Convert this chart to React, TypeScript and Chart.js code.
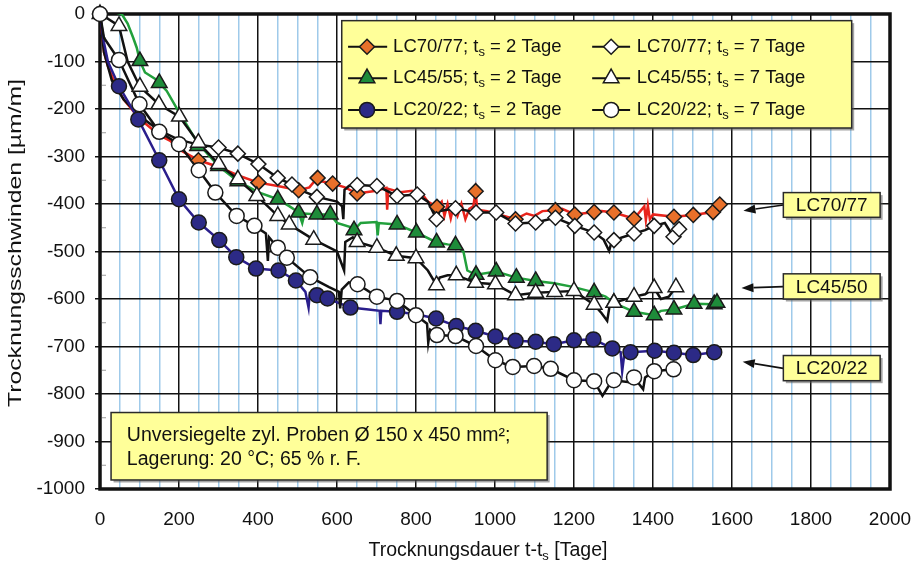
import React, { useEffect, useRef } from 'react';
import { Chart, registerables } from 'chart.js';

Chart.register(...registerables);

type P = [number, number];

// ---------- axes ----------
const X_MIN = 0;
const X_MAX = 2000;
const X_MINOR_STEP = 50;
const X_LABEL_STEP = 200;
const Y_MIN = -1000;
const Y_MAX = 0;
const Y_STEP = 100;

const X_TITLE: [string, boolean][] = [['Trocknungsdauer t-t', false], ['s', true], [' [Tage]', false]];
const Y_TITLE = 'Trocknungsschwinden [µm/m]';

// ---------- series: LC70/77, t_s = 2 Tage ----------
const LC70_2_LINE: P[] = [
  [0, 0], [5, -40], [10, -80], [20, -110], [40, -150], [60, -180], [100, -220], [150, -255], [178, -267],
  [200, -285], [250, -308], [300, -322], [350, -340], [401, -355], [450, -362], [503, -371], [530, -365],
  [549, -346], [560, -352], [589, -357], [620, -365], [651, -378], [700, -372], [725, -366], [727, -412],
  [730, -368], [760, -375], [790, -372], [800, -382], [815, -378], [830, -395], [853, -406], [865, -395],
  [872, -425], [880, -400], [888, -430], [895, -405], [905, -425], [915, -400], [925, -432], [935, -410],
  [945, -405], [951, -373], [955, -412], [980, -415], [1000, -420], [1052, -432], [1080, -420], [1100, -425],
  [1120, -415], [1153, -413], [1170, -410], [1202, -422], [1251, -417], [1270, -415], [1301, -418],
  [1340, -428], [1352, -431], [1378, -405], [1382, -434], [1387, -404], [1392, -432], [1400, -422],
  [1453, -427], [1502, -423], [1552, -417], [1569, -401],
];
const LC70_2_MARK: P[] = [
  [0, 0], [249, -308], [401, -355], [503, -371], [551, -345], [589, -357], [651, -378], [853, -406],
  [951, -373], [1052, -432], [1153, -413], [1202, -422], [1251, -417], [1301, -418], [1352, -431],
  [1453, -427], [1502, -423], [1552, -417], [1569, -401],
];

// ---------- series: LC70/77, t_s = 7 Tage ----------
const LC70_7_LINE: P[] = [
  [0, 0], [10, -80], [30, -140], [60, -180], [100, -215], [150, -245], [200, -265], [250, -275],
  [300, -281], [349, -294], [401, -316], [450, -345], [486, -359], [520, -375], [549, -385], [600, -395],
  [613, -405], [616, -432], [619, -370], [630, -362], [651, -360], [701, -362], [752, -383], [803, -380],
  [830, -395], [852, -432], [860, -415], [900, -409], [952, -418], [1003, -418], [1052, -441],
  [1103, -439], [1153, -429], [1202, -446], [1251, -460], [1275, -475], [1289, -499], [1295, -480],
  [1301, -476], [1352, -462], [1380, -455], [1403, -446], [1430, -440], [1452, -469], [1466, -453],
];
const LC70_7_MARK: P[] = [
  [300, -281], [349, -294], [401, -316], [450, -345], [486, -359], [549, -385], [651, -360], [701, -362],
  [752, -383], [803, -380], [852, -432], [900, -409], [952, -418], [1003, -418], [1052, -441], [1103, -439],
  [1153, -429], [1202, -446], [1251, -460], [1301, -476], [1352, -462], [1403, -446], [1452, -469],
  [1466, -453],
];

// ---------- series: LC45/55, t_s = 2 Tage ----------
const LC45_2_LINE: P[] = [
  [5, 15], [30, 5], [55, 0], [70, -20], [84, -50], [93, -71], [101, -99], [114, -123], [140, -137],
  [150, -145], [169, -162], [198, -204], [247, -271], [300, -320], [349, -352], [400, -375], [450, -390],
  [480, -405], [503, -418], [512, -440], [518, -420], [549, -422], [583, -422], [600, -440], [640, -450],
  [643, -455], [660, -440], [700, -438], [703, -466], [706, -440], [752, -443], [801, -460], [852, -481],
  [880, -485], [900, -487], [920, -500], [930, -540], [952, -549], [1003, -542], [1054, -555],
  [1103, -562], [1150, -567], [1200, -575], [1251, -586], [1280, -595], [1301, -608], [1352, -627],
  [1403, -634], [1420, -625], [1453, -622], [1504, -610], [1555, -611],
];
const LC45_2_MARK: P[] = [
  [101, -99], [150, -145], [247, -278], [300, -320], [349, -352], [450, -390], [503, -418], [549, -422],
  [583, -422], [643, -455], [752, -443], [801, -460], [852, -481], [900, -487], [952, -549], [1003, -542],
  [1054, -555], [1103, -562], [1251, -586], [1301, -608], [1352, -627], [1403, -634], [1453, -622],
  [1504, -610], [1555, -611], [1562, -608],
];

// ---------- series: LC45/55, t_s = 7 Tage ----------
const LC45_7_LINE: P[] = [
  [0, 0], [20, -10], [48, -25], [70, -100], [101, -153], [149, -190], [201, -216], [249, -271],
  [300, -316], [349, -348], [397, -383], [450, -425], [479, -443], [541, -475], [600, -500], [618, -540],
  [621, -480], [640, -470], [651, -480], [701, -492], [750, -509], [800, -514], [830, -540], [852, -571],
  [860, -555], [880, -550], [902, -550], [951, -566], [1001, -569], [1052, -592], [1103, -587],
  [1151, -585], [1200, -583], [1251, -612], [1270, -630], [1284, -646], [1290, -615], [1301, -608],
  [1352, -595], [1380, -590], [1403, -577], [1420, -600], [1440, -595], [1458, -575],
];
const LC45_7_MARK: P[] = [
  [0, 0], [48, -25], [101, -153], [149, -190], [201, -216], [249, -271], [300, -316], [349, -348],
  [397, -383], [450, -425], [479, -443], [541, -475], [651, -480], [701, -492], [750, -509], [800, -514],
  [852, -571], [902, -550], [951, -566], [1001, -569], [1052, -592], [1103, -587], [1151, -585],
  [1200, -583], [1251, -612], [1301, -608], [1352, -595], [1403, -577], [1458, -575],
];

// ---------- series: LC20/22, t_s = 2 Tage ----------
const LC20_2_LINE: P[] = [
  [0, 0], [10, -60], [20, -100], [48, -152], [97, -222], [150, -308], [200, -390], [250, -439],
  [302, -476], [345, -512], [395, -536], [452, -540], [496, -561], [520, -585], [528, -618], [531, -588],
  [549, -592], [576, -599], [634, -618], [680, -622], [708, -625], [710, -653], [712, -625], [752, -627],
  [800, -632], [851, -641], [902, -657], [951, -667], [1001, -679], [1052, -688], [1103, -690],
  [1149, -695], [1200, -687], [1249, -685], [1297, -704], [1318, -712], [1322, -752], [1328, -712],
  [1343, -712], [1404, -709], [1453, -713], [1502, -718], [1555, -712],
];
const LC20_2_MARK: P[] = [
  [48, -152], [97, -222], [150, -308], [200, -390], [250, -439], [302, -476], [345, -512], [395, -536],
  [452, -540], [496, -561], [549, -592], [576, -599], [634, -618], [752, -627], [851, -641], [902, -657],
  [951, -667], [1001, -679], [1052, -688], [1103, -690], [1149, -695], [1200, -687], [1249, -685],
  [1297, -704], [1343, -712], [1404, -709], [1453, -713], [1502, -718], [1555, -712],
];

// ---------- series: LC20/22, t_s = 7 Tage ----------
const LC20_7_LINE: P[] = [
  [0, 0], [10, -50], [48, -97], [100, -190], [150, -248], [200, -274], [250, -329], [292, -376],
  [346, -425], [391, -446], [420, -462], [425, -520], [428, -470], [450, -492], [473, -513], [532, -554],
  [580, -575], [605, -585], [608, -620], [612, -580], [630, -565], [652, -569], [701, -595], [752, -604],
  [800, -634], [828, -652], [831, -692], [836, -665], [853, -676], [900, -678], [952, -699],
  [1001, -729], [1045, -743], [1099, -741], [1141, -747], [1200, -771], [1251, -773], [1272, -804],
  [1290, -780], [1301, -771], [1340, -775], [1352, -765], [1375, -790], [1380, -765], [1403, -752],
  [1452, -748],
];
const LC20_7_MARK: P[] = [
  [0, 0], [48, -97], [100, -190], [150, -248], [200, -274], [250, -329], [292, -376], [346, -425],
  [391, -446], [450, -492], [473, -513], [532, -554], [652, -569], [701, -595], [752, -604], [800, -634],
  [853, -676], [900, -678], [952, -699], [1001, -729], [1045, -743], [1099, -741], [1141, -747],
  [1200, -771], [1251, -773], [1301, -771], [1352, -765], [1403, -752], [1452, -748],
];

// ---------- legend / labels ----------
const LEGEND_NAMES = ['LC70/77', 'LC45/55', 'LC20/22'];
const LEGEND_AGES = ['2', '7'];
const SIDE_LABELS = ['LC70/77', 'LC45/50', 'LC20/22'];
const NOTE_LINES = ['Unversiegelte zyl. Proben Ø 150 x 450 mm²;', 'Lagerung: 20 °C; 65 % r. F.'];

const FONT = '"Liberation Sans", Arial, Helvetica, sans-serif';
const YELLOW = '#ffff99';
const ORANGE = '#e8702a';
const RED = '#e8241c';
const GREEN_FILL = '#1e8c3a';
const GREEN_LINE = '#22a03c';
const NAVY_FILL = '#2c2a86';
const NAVY_LINE = '#2a1e8c';
const MARK_BORDER = '#1a1a1a';

type Style = 'diamond' | 'triangle' | 'circle';

const SERIES: { line: P[]; mark: P[]; lineColor: string; fill: string; style: Style }[] = [
  { line: LC70_2_LINE, mark: LC70_2_MARK, lineColor: RED, fill: ORANGE, style: 'diamond' },
  { line: LC70_7_LINE, mark: LC70_7_MARK, lineColor: '#111', fill: '#ffffff', style: 'diamond' },
  { line: LC45_2_LINE, mark: LC45_2_MARK, lineColor: GREEN_LINE, fill: GREEN_FILL, style: 'triangle' },
  { line: LC45_7_LINE, mark: LC45_7_MARK, lineColor: '#111', fill: '#ffffff', style: 'triangle' },
  { line: LC20_2_LINE, mark: LC20_2_MARK, lineColor: NAVY_LINE, fill: NAVY_FILL, style: 'circle' },
  { line: LC20_7_LINE, mark: LC20_7_MARK, lineColor: '#111', fill: '#ffffff', style: 'circle' },
];

const RADIUS: Record<Style, number> = { diamond: 7.5, triangle: 9, circle: 7.5 };
const CHART_STYLE: Record<Style, string> = { diamond: 'rectRot', triangle: 'triangle', circle: 'circle' };

function drawMarker(ctx: CanvasRenderingContext2D, style: Style, x: number, y: number, fill: string) {
  const r = RADIUS[style];
  ctx.save();
  ctx.beginPath();
  if (style === 'circle') {
    ctx.arc(x, y, r, 0, Math.PI * 2);
  } else if (style === 'diamond') {
    ctx.moveTo(x, y - r);
    ctx.lineTo(x + r, y);
    ctx.lineTo(x, y + r);
    ctx.lineTo(x - r, y);
    ctx.closePath();
  } else {
    ctx.moveTo(x, y - r);
    ctx.lineTo(x + r * 0.866, y + r * 0.5);
    ctx.lineTo(x - r * 0.866, y + r * 0.5);
    ctx.closePath();
  }
  ctx.fillStyle = fill;
  ctx.fill();
  ctx.lineWidth = 1.5;
  ctx.strokeStyle = MARK_BORDER;
  ctx.stroke();
  ctx.restore();
}

function richWidth(ctx: CanvasRenderingContext2D, parts: [string, boolean][], size: number) {
  let w = 0;
  for (const [t, sub] of parts) {
    ctx.font = `${sub ? Math.round(size * 0.68) : size}px ${FONT}`;
    w += ctx.measureText(t).width;
  }
  return w;
}

function drawRich(ctx: CanvasRenderingContext2D, parts: [string, boolean][], x: number, y: number, size: number, align: 'left' | 'center') {
  const total = richWidth(ctx, parts, size);
  let cx = align === 'center' ? x - total / 2 : x;
  ctx.textAlign = 'left';
  ctx.textBaseline = 'middle';
  for (const [t, sub] of parts) {
    ctx.font = `${sub ? Math.round(size * 0.68) : size}px ${FONT}`;
    ctx.fillText(t, cx, y + (sub ? size * 0.3 : 0));
    cx += ctx.measureText(t).width;
  }
}

function yellowBox(ctx: CanvasRenderingContext2D, l: number, t: number, r: number, b: number) {
  ctx.save();
  ctx.fillStyle = 'rgba(90,90,90,0.55)';
  ctx.fillRect(l + 2.5, t + 2.5, r - l, b - t);
  ctx.fillStyle = YELLOW;
  ctx.fillRect(l, t, r - l, b - t);
  ctx.lineWidth = 1.5;
  ctx.strokeStyle = '#2a2a2a';
  ctx.strokeRect(l, t, r - l, b - t);
  ctx.restore();
}

function arrow(ctx: CanvasRenderingContext2D, x1: number, y1: number, x2: number, y2: number) {
  ctx.save();
  ctx.strokeStyle = '#111';
  ctx.fillStyle = '#111';
  ctx.lineWidth = 1.6;
  const ang = Math.atan2(y2 - y1, x2 - x1);
  const hl = 12;
  const hw = 4.5;
  const bx = x2 - Math.cos(ang) * hl;
  const by = y2 - Math.sin(ang) * hl;
  ctx.beginPath();
  ctx.moveTo(x1, y1);
  ctx.lineTo(bx, by);
  ctx.stroke();
  ctx.beginPath();
  ctx.moveTo(x2, y2);
  ctx.lineTo(bx - Math.sin(ang) * hw, by + Math.cos(ang) * hw);
  ctx.lineTo(bx + Math.sin(ang) * hw, by - Math.cos(ang) * hw);
  ctx.closePath();
  ctx.fill();
  ctx.restore();
}

const decorPlugin = {
  id: 'decor',
  beforeDatasetsDraw(chart: any) {
    const { ctx, chartArea: a, scales } = chart;
    const ys = scales.y;
    ctx.save();
    ctx.strokeStyle = '#9a9a9a';
    ctx.lineWidth = 1;
    for (let v = Y_MAX - Y_STEP / 2; v > Y_MIN; v -= Y_STEP) {
      const py = ys.getPixelForValue(v);
      ctx.beginPath();
      ctx.moveTo(a.left + 2, py);
      ctx.lineTo(a.left + 6, py);
      ctx.stroke();
    }
    ctx.strokeStyle = '#111';
    ctx.lineWidth = 3.5;
    ctx.strokeRect(a.left, a.top, a.right - a.left, a.bottom - a.top);
    ctx.restore();
  },
  afterDraw(chart: any) {
    const { ctx, chartArea: a, scales } = chart;
    const xs = scales.x;
    const ys = scales.y;
    const X = (v: number) => xs.getPixelForValue(v);
    const Y = (v: number) => ys.getPixelForValue(v);
    ctx.save();
    ctx.fillStyle = '#111';

    // legend
    yellowBox(ctx, X(612), Y(-14), X(1903), Y(-240));
    const rowY = [-69, -135, -202];
    const cols = [
      { l1: 628, l2: 727, m: 676, t: 742 },
      { l1: 1246, l2: 1342, m: 1294, t: 1359 },
    ];
    for (let r = 0; r < 3; r++) {
      for (let c = 0; c < 2; c++) {
        const s = SERIES[r * 2 + c];
        const col = cols[c];
        const py = Y(rowY[r]);
        ctx.strokeStyle = '#111';
        ctx.lineWidth = 2;
        ctx.beginPath();
        ctx.moveTo(X(col.l1), py);
        ctx.lineTo(X(col.l2), py);
        ctx.stroke();
        drawMarker(ctx, s.style, X(col.m), py, s.fill);
        ctx.fillStyle = '#111';
        drawRich(ctx, [[`${LEGEND_NAMES[r]}; t`, false], ['s', true], [` = ${LEGEND_AGES[c]} Tage`, false]], X(col.t), py, 18.5, 'left');
      }
    }

    // side labels with arrows
    const side = [
      { top: -376, bot: -428, from: -402, tipX: 1629, tipY: -414 },
      { top: -547, bot: -600, from: -574, tipX: 1624, tipY: -577 },
      { top: -719, bot: -772, from: -746, tipX: 1627, tipY: -732 },
    ];
    side.forEach((sd, i) => {
      arrow(ctx, X(1730), Y(sd.from), X(sd.tipX), Y(sd.tipY));
      yellowBox(ctx, X(1730), Y(sd.top), X(1975), Y(sd.bot));
      ctx.fillStyle = '#111';
      ctx.font = `19px ${FONT}`;
      ctx.textAlign = 'center';
      ctx.textBaseline = 'middle';
      ctx.fillText(SIDE_LABELS[i], (X(1730) + X(1975)) / 2, (Y(sd.top) + Y(sd.bot)) / 2 + 1);
    });

    // note box
    yellowBox(ctx, X(28), Y(-839), X(1132), Y(-981));
    ctx.fillStyle = '#111';
    ctx.font = `19.5px ${FONT}`;
    ctx.textAlign = 'left';
    ctx.textBaseline = 'middle';
    ctx.fillText(NOTE_LINES[0], X(68), Y(-888));
    ctx.fillText(NOTE_LINES[1], X(68), Y(-939));

    // x title
    drawRich(ctx, X_TITLE, (a.left + a.right) / 2 - 7, 551, 19.5, 'center');

    // y title (horizontally stretched as in the original)
    ctx.save();
    ctx.translate(16, 243);
    ctx.rotate(-Math.PI / 2);
    ctx.font = `19px ${FONT}`;
    const w = ctx.measureText(Y_TITLE).width;
    ctx.scale(328 / w, 1);
    ctx.textAlign = 'center';
    ctx.textBaseline = 'middle';
    ctx.fillText(Y_TITLE, 0, 0);
    ctx.restore();

    ctx.restore();
  },
};

export default function App() {
  const ref = useRef<HTMLCanvasElement | null>(null);

  useEffect(() => {
    const canvas = ref.current;
    if (!canvas) return;
    const toXY = (arr: P[]) => arr.map(([x, y]) => ({ x, y }));

    const datasets: any[] = [];
    SERIES.forEach((s, i) => {
      datasets.push({
        label: `line${i}`,
        data: toXY(s.line),
        showLine: true,
        borderColor: s.lineColor,
        borderWidth: 2.5,
        pointRadius: 0,
        tension: 0,
        order: 20 - i,
      });
    });
    SERIES.forEach((s, i) => {
      datasets.push({
        label: `mark${i}`,
        data: toXY(s.mark),
        showLine: false,
        pointStyle: CHART_STYLE[s.style],
        pointRadius: RADIUS[s.style],
        pointBackgroundColor: s.fill,
        pointBorderColor: MARK_BORDER,
        pointBorderWidth: 1.5,
        clip: false,
        order: 10 - i,
      });
    });

    const chart = new Chart(canvas, {
      type: 'scatter',
      data: { datasets },
      options: {
        animation: false,
        responsive: true,
        maintainAspectRatio: false,
        layout: { padding: { top: 14, right: 26, bottom: 0, left: 0 } },
        plugins: { legend: { display: false }, tooltip: { enabled: false } },
        events: [],
        scales: {
          x: {
            type: 'linear',
            min: X_MIN,
            max: X_MAX,
            afterFit: (s: any) => {
              s.height = 76;
              s.paddingLeft = 0;
              s.paddingRight = 0;
            },
            border: { display: false },
            grid: {
              color: (c: any) => (c.tick && c.tick.value % X_LABEL_STEP === 0 ? '#111' : '#9fcaea'),
              lineWidth: 1.5,
              drawTicks: false,
            },
            ticks: {
              stepSize: X_MINOR_STEP,
              autoSkip: false,
              maxRotation: 0,
              padding: 19,
              color: '#111',
              font: { family: FONT, size: 19 },
              callback: (v: any) => (Number(v) % X_LABEL_STEP === 0 ? String(v) : ''),
            },
          },
          y: {
            type: 'linear',
            min: Y_MIN,
            max: Y_MAX,
            afterFit: (s: any) => {
              s.width = 100;
              s.paddingTop = 0;
              s.paddingBottom = 0;
            },
            border: { display: false },
            grid: { color: '#111', lineWidth: 1.5, tickLength: 5 },
            ticks: {
              stepSize: Y_STEP,
              padding: 10,
              color: '#111',
              font: { family: FONT, size: 19 },
              callback: (v: any) => String(v),
            },
          },
        },
      },
      plugins: [decorPlugin],
    });
    return () => chart.destroy();
  }, []);

  return (
    <div style={{ position: 'fixed', left: 0, top: 0, width: 916, height: 565, background: '#fff' }}>
      <canvas ref={ref} />
    </div>
  );
}
